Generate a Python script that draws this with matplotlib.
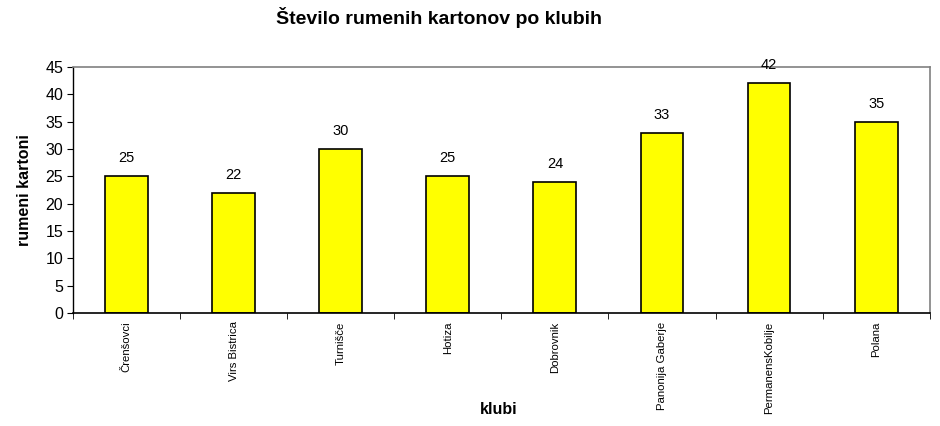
import numpy as np
import matplotlib.pyplot as plt

klubi = ["Črenšovci", "Virs Bistrica", "Turnišče", "Hotiza", "Dobrovnik",
         "Panonija Gaberje", "PermanensKobilje", "Polana"]
kartoni = [25, 22, 30, 25, 24, 33, 42, 35]

plt.rcParams['font.family'] = ['Liberation Sans', 'DejaVu Sans']

fig = plt.figure(figsize=(9.4, 4.26), dpi=100)
ax = fig.add_axes([0.0777, 0.265, 0.9113, 0.578])

x = np.arange(len(klubi))
ax.bar(x, kartoni, width=0.4, color="#ffff00", edgecolor="black", linewidth=1.2, zorder=2)
for xi, v in zip(x, kartoni):
    ax.text(xi, v + 2.0, str(v), ha="center", va="bottom", fontsize=10.5)

ax.set_xlim(-0.5, len(klubi) - 0.5)
ax.set_ylim(0, 45)
ax.set_yticks(range(0, 46, 5))
ax.set_xticks(x)
ax.set_xticklabels(klubi, rotation=90, fontsize=8.2)
ax.set_xticks(np.arange(-0.5, len(klubi), 1), minor=True)
ax.tick_params(axis="x", which="major", length=0, pad=6)
ax.tick_params(axis="x", which="minor", length=4, direction="out")
ax.tick_params(axis="y", length=4, labelsize=11.5, pad=3)

ax.spines["top"].set_color("#808080")
ax.spines["right"].set_color("#808080")
ax.spines["top"].set_linewidth(1.2)
ax.spines["right"].set_linewidth(1.2)
ax.spines["left"].set_linewidth(1.0)
ax.spines["bottom"].set_linewidth(1.2)

ax.set_ylabel("rumeni kartoni", fontsize=11.5, fontweight="bold", labelpad=10)
fig.text(0.531, 1 - 410 / 426, "klubi", ha="center", va="center",
         fontsize=11.5, fontweight="bold")
fig.text(0.467, 0.958, "Število rumenih kartonov po klubih", ha="center", va="center",
         fontsize=14, fontweight="bold")

fig.savefig("out.png", dpi=100)
